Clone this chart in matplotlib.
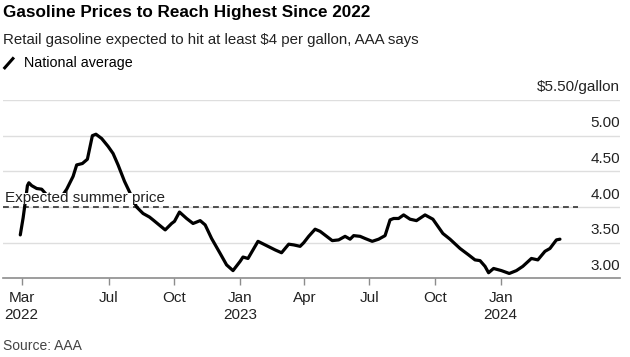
import matplotlib
matplotlib.use("Agg")
import matplotlib.pyplot as plt
from matplotlib.lines import Line2D
import pandas as pd

plt.rcParams['font.family'] = ['Liberation Sans', 'DejaVu Sans']

# National average retail gasoline price, $/gallon
dates = [
    "2022-02-27", "2022-03-03", "2022-03-06", "2022-03-09", "2022-03-11",
    "2022-03-15", "2022-03-22", "2022-03-29", "2022-04-05", "2022-04-13",
    "2022-04-22", "2022-04-29", "2022-05-03", "2022-05-12", "2022-05-17",
    "2022-05-25", "2022-06-01", "2022-06-08", "2022-06-13", "2022-06-21",
    "2022-06-30", "2022-07-07", "2022-07-14", "2022-07-23", "2022-08-02",
    "2022-08-09", "2022-08-18", "2022-08-27", "2022-09-01", "2022-09-18",
    "2022-09-27", "2022-10-01", "2022-10-08", "2022-10-18", "2022-10-27",
    "2022-11-06", "2022-11-13", "2022-11-22", "2022-12-04", "2022-12-13",
    "2022-12-22", "2023-01-01", "2023-01-05", "2023-01-12", "2023-01-19",
    "2023-01-26", "2023-02-05", "2023-02-15", "2023-02-19", "2023-02-28",
    "2023-03-10", "2023-03-17", "2023-03-26", "2023-03-31", "2023-04-07",
    "2023-04-16", "2023-04-23", "2023-05-10", "2023-05-19", "2023-05-28",
    "2023-06-04", "2023-06-09", "2023-06-18", "2023-06-25", "2023-07-05",
    "2023-07-14", "2023-07-23", "2023-07-30", "2023-08-04", "2023-08-11",
    "2023-08-18", "2023-08-27", "2023-09-05", "2023-09-17", "2023-09-28",
    "2023-10-12", "2023-10-22", "2023-11-05", "2023-11-17", "2023-11-26",
    "2023-12-03", "2023-12-10", "2023-12-15", "2023-12-22", "2024-01-02",
    "2024-01-13", "2024-01-23", "2024-02-01", "2024-02-13", "2024-02-22",
    "2024-03-03", "2024-03-10", "2024-03-19", "2024-03-24",
]
prices = [
    3.61, 3.85, 4.07, 4.30, 4.34,
    4.30, 4.26, 4.25, 4.17, 4.09,
    4.12, 4.19, 4.25, 4.43, 4.59,
    4.61, 4.67, 5.00, 5.02, 4.96,
    4.85, 4.75, 4.59, 4.36, 4.15,
    4.00, 3.91, 3.86, 3.82, 3.68,
    3.77, 3.80, 3.93, 3.84, 3.77,
    3.81, 3.75, 3.56, 3.35, 3.19,
    3.11, 3.24, 3.30, 3.28, 3.40,
    3.52, 3.47, 3.42, 3.40, 3.36,
    3.48, 3.47, 3.45, 3.50, 3.59,
    3.69, 3.66, 3.53, 3.54, 3.59,
    3.55, 3.60, 3.59, 3.56, 3.52,
    3.55, 3.60, 3.82, 3.84, 3.84,
    3.89, 3.83, 3.81, 3.89, 3.83,
    3.63, 3.55, 3.42, 3.33, 3.26,
    3.25, 3.17, 3.08, 3.14, 3.11,
    3.07, 3.11, 3.17, 3.28, 3.26,
    3.38, 3.42, 3.54, 3.55,
]

summer_price = 4.00
y_ticks = [3.00, 3.50, 4.00, 4.50, 5.00, 5.50]
y_labels = ["3.00", "3.50", "4.00", "4.50", "5.00", "$5.50/gallon"]
x_ticks = ["2022-03-01", "2022-07-01", "2022-10-01", "2023-01-01",
           "2023-04-01", "2023-07-01", "2023-10-01", "2024-01-01"]
x_labels = ["Mar\n2022", "Jul", "Oct", "Jan\n2023", "Apr", "Jul", "Oct", "Jan\n2024"]

dates = pd.to_datetime(dates)
x_ticks = pd.to_datetime(x_ticks)

fig = plt.figure(figsize=(6.3, 3.57), dpi=100)
ax = fig.add_axes([0.005, 0.22, 0.979, 0.50])

ax.plot(dates, prices, color="black", lw=2.3, solid_capstyle="round",
        solid_joinstyle="round", zorder=3)

ax.set_xlim(pd.Timestamp("2022-02-03"), pd.Timestamp("2024-06-16"))
ax.set_ylim(y_ticks[0], y_ticks[-1])

# gridlines, with the value labels sitting just above them on the right
for v, lab in zip(y_ticks, y_labels):
    if v > y_ticks[0]:
        ax.axhline(v, color="#dedede", lw=1, zorder=1)
    ax.annotate(lab, xy=(1.0, v), xycoords=ax.get_yaxis_transform(),
                xytext=(0, 4), textcoords="offset points",
                ha="right", va="bottom", fontsize=11, color="#222222")

ax.axhline(summer_price, xmin=0, xmax=0.932, color="#333333", lw=1.2,
           ls=(0, (3.5, 2.5)), zorder=2)
ax.annotate("Expected summer price", xy=(0.0, summer_price),
            xycoords=ax.get_yaxis_transform(), xytext=(1, 3.3),
            textcoords="offset points", fontsize=11, color="#222222",
            va="baseline", ha="left", zorder=4,
            bbox=dict(boxstyle="square,pad=-0.08", fc="white", ec="none"))

ax.set_xticks(x_ticks)
ax.set_xticklabels(x_labels, fontsize=11, color="#222222", linespacing=1.25)
ax.tick_params(axis="x", length=5, width=1, color="#8c8c8c", pad=4)
ax.set_yticks([])
for s in ["top", "left", "right"]:
    ax.spines[s].set_visible(False)
ax.spines["bottom"].set_color("#8c8c8c")
ax.spines["bottom"].set_linewidth(1.2)

fig.text(0.005, 0.964, "Gasoline Prices to Reach Highest Since 2022",
         fontsize=12.3, fontweight="bold", va="center", ha="left")
fig.text(0.005, 0.888, "Retail gasoline expected to hit at least $4 per gallon, AAA says",
         fontsize=10.8, va="center", ha="left", color="#222222")
fig.add_artist(Line2D([0.0075, 0.0205], [0.810, 0.836], color="black", lw=2.2,
                      transform=fig.transFigure))
fig.text(0.038, 0.824, "National average", fontsize=10.3, va="center", ha="left")
fig.text(0.004, 0.031, "Source: AAA", fontsize=10, va="center", ha="left",
         color="#444444")

fig.savefig("out.png", dpi=100)
